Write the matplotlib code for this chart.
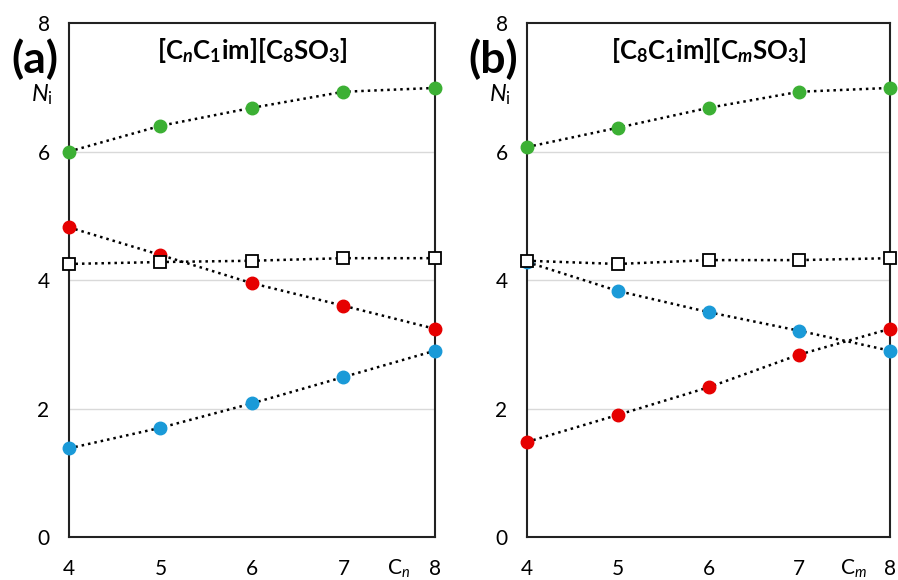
import matplotlib.pyplot as plt

plt.rcParams['font.family'] = 'Lato'
plt.rcParams['mathtext.fontset'] = 'custom'
plt.rcParams['mathtext.rm'] = 'Lato'
plt.rcParams['mathtext.it'] = 'Lato:italic'
plt.rcParams['mathtext.bf'] = 'Lato:bold'
plt.rcParams['mathtext.bfit'] = 'Lato:italic:bold'

chain = [4, 5, 6, 7, 8]

# panel (a): [CnC1im][C8SO3]
a_green = [6.00, 6.40, 6.68, 6.93, 6.99]
a_red = [4.82, 4.39, 3.95, 3.60, 3.24]
a_blue = [1.38, 1.70, 2.08, 2.49, 2.90]
a_white = [4.25, 4.28, 4.30, 4.34, 4.34]

# panel (b): [C8C1im][CmSO3]
b_green = [6.07, 6.37, 6.68, 6.93, 6.99]
b_red = [1.48, 1.90, 2.33, 2.84, 3.24]
b_blue = [4.28, 3.83, 3.50, 3.21, 2.90]
b_white = [4.30, 4.25, 4.31, 4.31, 4.34]

panels = [
    ('(a)', r'$\mathbf{[C}_{\mathbfit{n}}\mathbf{C}_{\mathbf{1}}\mathbf{im][C}_{\mathbf{8}}\mathbf{SO}_{\mathbf{3}}\mathbf{]}$',
     r'C$_{\mathit{n}}$', a_green, a_red, a_blue, a_white),
    ('(b)', r'$\mathbf{[C}_{\mathbf{8}}\mathbf{C}_{\mathbf{1}}\mathbf{im][C}_{\mathbfit{m}}\mathbf{SO}_{\mathbf{3}}\mathbf{]}$',
     r'C$_{\mathit{m}}$', b_green, b_red, b_blue, b_white),
]

fig = plt.figure(figsize=(8.98, 5.80), dpi=100)
rects = [[0.0768, 0.0741, 0.4076, 0.8862], [0.5869, 0.0741, 0.4042, 0.8862]]

for rect, (tag, title, xlab, green, red, blue, white) in zip(rects, panels):
    ax = fig.add_axes(rect)
    ax.set_xlim(4, 8)
    ax.set_ylim(0, 8)
    ax.set_xticks(chain)
    ax.set_yticks([0, 2, 4, 6, 8])
    ax.tick_params(length=0, labelsize=15)
    ax.tick_params(axis='x', pad=16)
    ax.tick_params(axis='y', pad=14)
    for y in [2, 4, 6]:
        ax.axhline(y, color='#d9d9d9', lw=1, zorder=0)
    for s in ax.spines.values():
        s.set_linewidth(1.5)
        s.set_color('#222222')

    style = dict(ls=(0, (1, 1.6)), lw=1.8, color='black', clip_on=False, zorder=3)
    for vals, col in [(green, '#3cb034'), (red, '#e60000'), (blue, '#1a9ad8')]:
        ax.plot(chain, vals, marker='o', ms=9, mfc=col, mec=col, **style)
    ax.plot(chain, white, marker='s', ms=9, mfc='white', mec='black', mew=1.3, **style)

    ax.text(0.5, 0.947, title, transform=ax.transAxes, ha='center', va='center', fontsize=18.5)
    ax.text(-0.075, 6.88, r'$N_{\mathrm{i}}$', transform=ax.get_yaxis_transform(),
            ha='center', va='center', fontsize=17)
    ax.text(7.6, -0.074, xlab, transform=ax.get_xaxis_transform(),
            ha='center', va='baseline', fontsize=15)
    fig.text(rect[0] - 0.038, 0.898, tag, ha='center', va='center', fontsize=32, fontweight='bold')

fig.savefig('out.png', dpi=100)
